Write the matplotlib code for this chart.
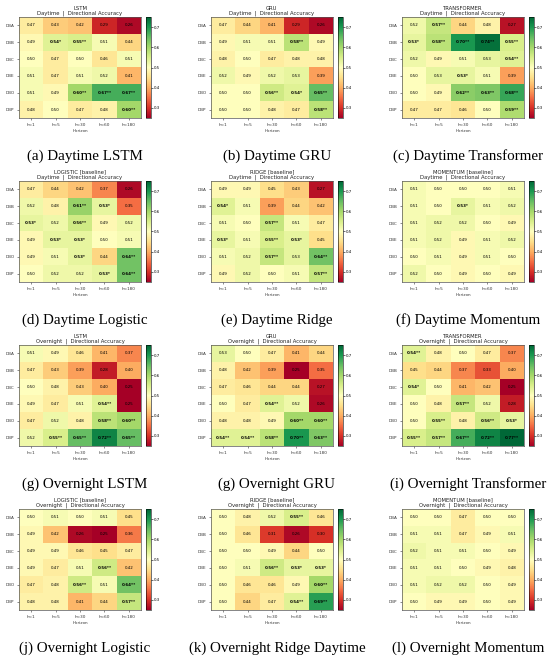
import matplotlib
matplotlib.use("Agg")
import matplotlib.pyplot as plt
import numpy as np

# axes labels
HORIZONS = ["h=1", "h=5", "h=30", "h=60", "h=180"]
SERIES = ["DBA", "DBB", "DBC", "DBE", "DBO", "DBP"]

# accuracy per series (rows) and horizon (cols); stars = significance
day_lstm = [["0.47", "0.43", "0.42", "0.29", "0.26"],
            ["0.49", "0.54*", "0.55**", "0.51", "0.44"],
            ["0.50", "0.47", "0.50", "0.46", "0.51"],
            ["0.51", "0.47", "0.51", "0.52", "0.41"],
            ["0.51", "0.49", "0.60**", "0.67**", "0.67**"],
            ["0.48", "0.50", "0.47", "0.48", "0.60**"]]

day_gru = [["0.47", "0.44", "0.41", "0.29", "0.26"],
           ["0.49", "0.51", "0.51", "0.58**", "0.49"],
           ["0.48", "0.50", "0.47", "0.48", "0.48"],
           ["0.52", "0.49", "0.52", "0.53", "0.39"],
           ["0.50", "0.50", "0.56**", "0.54*", "0.65**"],
           ["0.50", "0.50", "0.48", "0.47", "0.58**"]]

day_transformer = [["0.52", "0.57**", "0.44", "0.48", "0.27"],
                   ["0.53*", "0.58**", "0.70**", "0.74**", "0.55**"],
                   ["0.52", "0.49", "0.51", "0.53", "0.54**"],
                   ["0.50", "0.53", "0.53*", "0.51", "0.39"],
                   ["0.50", "0.49", "0.62**", "0.63**", "0.68**"],
                   ["0.47", "0.47", "0.46", "0.50", "0.59**"]]

day_logistic = [["0.47", "0.44", "0.42", "0.37", "0.26"],
                ["0.52", "0.48", "0.61**", "0.53*", "0.35"],
                ["0.53*", "0.52", "0.56**", "0.49", "0.52"],
                ["0.49", "0.53*", "0.53*", "0.50", "0.51"],
                ["0.49", "0.51", "0.53*", "0.44", "0.64**"],
                ["0.50", "0.52", "0.52", "0.53*", "0.64**"]]

day_ridge = [["0.49", "0.49", "0.45", "0.43", "0.27"],
             ["0.54*", "0.51", "0.39", "0.44", "0.42"],
             ["0.51", "0.50", "0.57**", "0.51", "0.47"],
             ["0.53*", "0.51", "0.55**", "0.53*", "0.45"],
             ["0.51", "0.52", "0.57**", "0.53", "0.64**"],
             ["0.49", "0.52", "0.50", "0.51", "0.57**"]]

day_momentum = [["0.51", "0.50", "0.50", "0.50", "0.51"],
                ["0.51", "0.50", "0.53*", "0.51", "0.52"],
                ["0.51", "0.52", "0.52", "0.50", "0.49"],
                ["0.51", "0.52", "0.49", "0.51", "0.52"],
                ["0.50", "0.51", "0.49", "0.51", "0.50"],
                ["0.52", "0.50", "0.49", "0.50", "0.49"]]

night_lstm = [["0.51", "0.49", "0.46", "0.41", "0.37"],
              ["0.47", "0.43", "0.39", "0.28", "0.40"],
              ["0.50", "0.48", "0.43", "0.40", "0.25"],
              ["0.49", "0.47", "0.51", "0.54**", "0.25"],
              ["0.47", "0.52", "0.48", "0.58**", "0.60**"],
              ["0.52", "0.55**", "0.65**", "0.72**", "0.65**"]]

night_gru = [["0.53", "0.50", "0.47", "0.41", "0.44"],
             ["0.48", "0.42", "0.39", "0.25", "0.35"],
             ["0.47", "0.46", "0.44", "0.44", "0.27"],
             ["0.50", "0.47", "0.54**", "0.52", "0.26"],
             ["0.48", "0.48", "0.49", "0.60**", "0.60**"],
             ["0.54**", "0.54**", "0.58**", "0.70**", "0.63**"]]

night_transformer = [["0.54**", "0.48", "0.50", "0.47", "0.37"],
                     ["0.45", "0.44", "0.37", "0.33", "0.40"],
                     ["0.54*", "0.50", "0.41", "0.42", "0.25"],
                     ["0.50", "0.48", "0.57**", "0.52", "0.28"],
                     ["0.50", "0.55**", "0.48", "0.56**", "0.53*"],
                     ["0.55**", "0.57**", "0.67**", "0.72**", "0.77**"]]

night_logistic = [["0.50", "0.51", "0.50", "0.51", "0.45"],
                  ["0.49", "0.42", "0.26", "0.25", "0.36"],
                  ["0.49", "0.49", "0.46", "0.45", "0.47"],
                  ["0.49", "0.47", "0.51", "0.56**", "0.42"],
                  ["0.47", "0.48", "0.56**", "0.51", "0.64**"],
                  ["0.48", "0.48", "0.41", "0.44", "0.57**"]]

night_ridge = [["0.50", "0.48", "0.52", "0.55**", "0.46"],
               ["0.50", "0.46", "0.31", "0.26", "0.30"],
               ["0.50", "0.50", "0.49", "0.44", "0.50"],
               ["0.50", "0.51", "0.56**", "0.53*", "0.53*"],
               ["0.50", "0.46", "0.46", "0.49", "0.60**"],
               ["0.50", "0.44", "0.47", "0.54**", "0.69**"]]

night_momentum = [["0.50", "0.50", "0.47", "0.50", "0.50"],
                  ["0.51", "0.51", "0.47", "0.49", "0.51"],
                  ["0.52", "0.51", "0.51", "0.50", "0.49"],
                  ["0.51", "0.51", "0.50", "0.49", "0.48"],
                  ["0.51", "0.52", "0.52", "0.50", "0.49"],
                  ["0.50", "0.49", "0.49", "0.50", "0.49"]]

panels = [
    ("LSTM", "Daytime", day_lstm, "(a) Daytime LSTM"),
    ("GRU", "Daytime", day_gru, "(b) Daytime GRU"),
    ("TRANSFORMER", "Daytime", day_transformer, "(c) Daytime Transformer"),
    ("LOGISTIC [baseline]", "Daytime", day_logistic, "(d) Daytime Logistic"),
    ("RIDGE [baseline]", "Daytime", day_ridge, "(e) Daytime Ridge"),
    ("MOMENTUM [baseline]", "Daytime", day_momentum, "(f) Daytime Momentum"),
    ("LSTM", "Overnight", night_lstm, "(g) Overnight LSTM"),
    ("GRU", "Overnight", night_gru, "(g) Overnight GRU"),
    ("TRANSFORMER", "Overnight", night_transformer, "(i) Overnight Transformer"),
    ("LOGISTIC [baseline]", "Overnight", night_logistic, "(j) Overnight Logistic"),
    ("RIDGE [baseline]", "Overnight", night_ridge, "(k) Overnight Ridge Daytime"),
    ("MOMENTUM [baseline]", "Overnight", night_momentum, "(l) Overnight Momentum"),
]

W, H = 550, 661
fig = plt.figure(figsize=(W / 100, H / 100), dpi=100)

col_left = [19, 211, 402]
row_top = [17, 181, 345, 509]
ax_w, ax_h = 122, 101


def box(x, y, w, h):
    # pixel box (top-left origin) -> figure fraction
    return [x / W, 1 - (y + h) / H, w / W, h / H]


for i, (model, session, cells, caption) in enumerate(panels):
    r, c = divmod(i, 3)
    x0, y0 = col_left[c], row_top[r]
    vals = np.array([[float(s.rstrip("*")) for s in row] for row in cells])

    ax = fig.add_axes(box(x0, y0, ax_w, ax_h))
    im = ax.imshow(vals, cmap="RdYlGn", vmin=0.25, vmax=0.75, aspect="auto")
    for yi in range(len(SERIES)):
        for xi in range(len(HORIZONS)):
            s = cells[yi][xi]
            ax.text(xi, yi, s, ha="center", va="center", fontsize=2.9,
                    fontweight="bold" if "*" in s else "normal", color="black")
    ax.set_xticks(range(len(HORIZONS)))
    ax.set_xticklabels(HORIZONS)
    ax.set_yticks(range(len(SERIES)))
    ax.set_yticklabels(SERIES)
    ax.tick_params(labelsize=3, length=1.5, width=0.4, pad=1.8, colors="#333333")
    ax.set_xlabel("Horizon", fontsize=3, labelpad=2, color="#333333")
    ax.set_title(f"{model}\n{session}  |  Directional Accuracy", fontsize=3.8,
                 pad=1.5, linespacing=1.1, color="#222222")
    for sp in ax.spines.values():
        sp.set_linewidth(0.5)
        sp.set_color("#555555")

    cax = fig.add_axes(box(x0 + ax_w + 5, y0, 5, ax_h))
    cb = fig.colorbar(im, cax=cax, ticks=[0.3, 0.4, 0.5, 0.6, 0.7])
    cb.ax.tick_params(labelsize=2.8, length=1.2, width=0.4, pad=1)
    cb.outline.set_linewidth(0.4)

    cx = (x0 + x0 + ax_w + 10) / 2
    fig.text(cx / W, 1 - (y0 + 139) / H, caption, ha="center", va="center",
             fontsize=10.8, family="Liberation Serif")

fig.savefig("out.png", dpi=100)
